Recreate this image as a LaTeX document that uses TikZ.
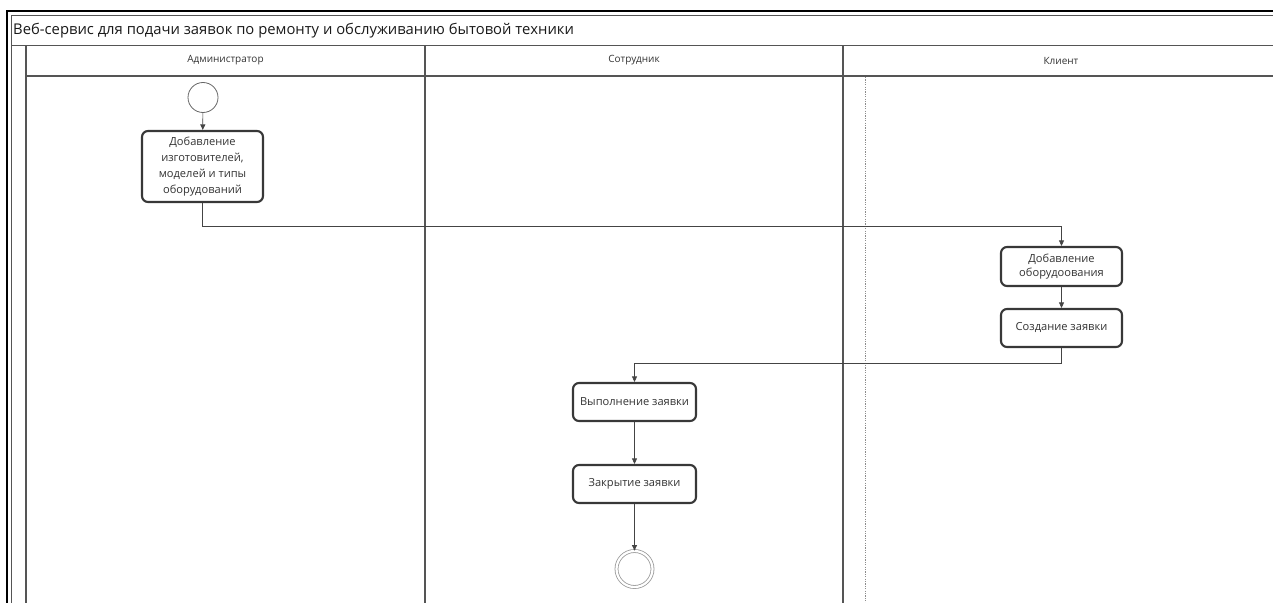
\documentclass[tikz,border=0pt]{standalone}
\usepackage{fontspec}
\setmainfont{Open Sans}
\usetikzlibrary{arrows.meta}

\definecolor{laneline}{HTML}{555555}
\definecolor{boxline}{HTML}{383838}
\definecolor{txt}{HTML}{333333}
\definecolor{flowline}{HTML}{444444}

\tikzset{
  lane/.style={draw=laneline, line width=1.8pt},
  frameouter/.style={draw=black, line width=1.1pt},
  laneheader/.style={font=\fontsize{10}{12}\selectfont, text=txt},
  activity/.style={draw=boxline, line width=2.1pt, rounded corners=6pt, fill=white,
    align=center, text=txt, font=\fontsize{11.1}{16}\selectfont, inner sep=2pt},
  startnode/.style={circle, draw=black!60, line width=0.8pt, minimum size=30pt, inner sep=0pt},
  endnode/.style={circle, draw=black!40, double=white, double distance=2.2pt,
    line width=0.8pt, minimum size=36pt, inner sep=0pt},
  flow/.style={draw=flowline, line width=0.7pt, -{Triangle[length=5.5pt,width=5pt]}},
  swimdiv/.style={draw=black!45, line width=0.6pt, dash pattern=on 1.2pt off 1.2pt}
}

\begin{document}
\begin{tikzpicture}[x=1pt, y=-1pt]
  \useasboundingbox (0,0) rectangle (1273,602);
  \begin{scope}
    \clip (0,0) rectangle (1273,602);

    % pool frame (double border)
    \draw[frameouter] (7,11) rectangle (1300,640);
    \draw[lane] (11.5,15.5) rectangle (1296,636);

    % title bar and lane header rows
    \draw[lane] (11.5,45.5) -- (1296,45.5);
    \draw[lane] (26,76) -- (1296,76);

    % lane separators
    \draw[lane] (26,45.5) -- (26,636);
    \draw[lane] (425,45.5) -- (425,636);
    \draw[lane] (843,45.5) -- (843,636);

    % dotted guide inside the client lane
    \draw[swimdiv] (865,77) -- (865,636);
  \end{scope}

  % title and lane names
  \node[anchor=west, font=\fontsize{14.8}{16}\selectfont, text=black!90, inner sep=0pt] (title) at (13,30.5)
    {Веб-сервис для подачи заявок по ремонту и обслуживанию бытовой техники};
  \node[laneheader] (admin) at (225.5,60.5) {Администратор};
  \node[laneheader] (staff) at (634,60.5) {Сотрудник};
  \node[laneheader] (client) at (1061,60.5) {Клиент};

  % activities
  \node[startnode] (start) at (203,97.5) {};
  \node[activity, minimum width=121pt, minimum height=71pt] (b1) at (202.5,166.5)
    {Добавление\\изготовителей,\\моделей и типы\\оборудований};
  \node[activity, minimum width=121pt, minimum height=39pt, font=\fontsize{11.1}{14.5}\selectfont] (b2) at (1061.5,266.5)
    {Добавление\\оборудоования};
  \node[activity, minimum width=121pt, minimum height=38pt] (b3) at (1061.5,328)
    {Создание заявки};
  \node[activity, minimum width=123pt, minimum height=38pt] (b4) at (634.5,402)
    {Выполнение заявки};
  \node[activity, minimum width=123pt, minimum height=38pt] (b5) at (634.5,484)
    {Закрытие заявки};
  \node[endnode] (end) at (634.5,569) {};

  % control flow
  \draw[flow] (start) -- (b1);
  \draw[flow] (b1.south) -- ++(0,23) -| (b2.north);
  \draw[flow] (b2) -- (b3);
  \draw[flow] (b3.south) -- ++(0,15) -| (b4.north);
  \draw[flow] (b4) -- (b5);
  \draw[flow] (b5) -- (end);
\end{tikzpicture}
\end{document}
